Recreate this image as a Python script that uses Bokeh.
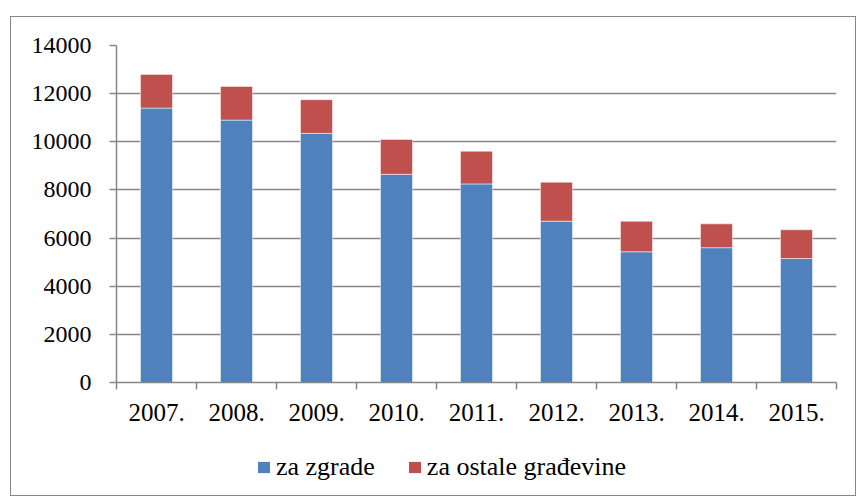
import numpy as np
from bokeh.plotting import figure
from bokeh.layouts import column
from bokeh.models import (Range1d, FixedTicker, Legend, LegendItem, ColumnDataSource)
from bokeh.embed import file_html
from bokeh.resources import INLINE

# ---- data ----
years = ["2007.", "2008.", "2009.", "2010.", "2011.", "2012.", "2013.", "2014.", "2015."]
za_zgrade = [11400, 10900, 10350, 8650, 8250, 6700, 5430, 5600, 5150]
za_ostale = [1400, 1400, 1400, 1450, 1360, 1620, 1270, 990, 1195]
y_ticks = [0, 2000, 4000, 6000, 8000, 10000, 12000, 14000]
series_names = ["za zgrade", "za ostale građevine"]

BLUE = "#4F81BD"
RED = "#C0504D"
GRID = "#868686"
FONT = "Liberation Serif"

n = len(years)
centers = [i + 0.5 for i in range(n)]
src = ColumnDataSource(dict(x=centers, zgrade=za_zgrade, ostale=za_ostale))

W = 844
p = figure(width=W, height=425, output_backend="svg", toolbar_location=None,
           x_range=Range1d(0, n), y_range=Range1d(y_ticks[0], y_ticks[-1]),
           min_border_left=105, min_border_right=19, min_border_top=28,
           min_border_bottom=60)
p.outline_line_color = None
p.background_fill_color = "white"
p.border_fill_color = "white"

rs = p.vbar_stack(["zgrade", "ostale"], x="x", width=0.4, color=[BLUE, RED],
                  line_color="white", line_alpha=0.5, line_width=1, source=src)

# x axis: labels at centres, tick marks at category boundaries
xa = p.xaxis[0]
xa.ticker = FixedTicker(ticks=centers, minor_ticks=list(range(n + 1)))
xa.major_label_overrides = {c: y for c, y in zip(centers, years)}
xa.major_tick_out = 0
xa.major_tick_in = 0
xa.minor_tick_out = 7
xa.minor_tick_in = 0
xa.minor_tick_line_color = GRID
xa.minor_tick_line_width = 1.5
xa.axis_line_color = GRID
xa.axis_line_width = 1.5
xa.major_label_text_font = FONT
xa.major_label_text_font_size = "25px"
xa.major_label_text_color = "black"
xa.major_label_standoff = 14

ya = p.yaxis[0]
ya.ticker = FixedTicker(ticks=y_ticks)
ya.major_tick_out = 7
ya.major_tick_in = 0
ya.minor_tick_line_color = None
ya.major_tick_line_color = GRID
ya.major_tick_line_width = 1.5
ya.axis_line_color = GRID
ya.axis_line_width = 1.5
ya.major_label_text_font = FONT
ya.major_label_text_font_size = "24px"
ya.major_label_text_color = "black"
ya.major_label_standoff = 18

p.xgrid.grid_line_color = None
p.ygrid.grid_line_color = GRID
p.ygrid.grid_line_width = 1.5
p.ygrid.ticker = FixedTicker(ticks=y_ticks)

# ---- legend strip below the chart ----
p2 = figure(width=W, height=53, output_backend="svg", toolbar_location=None,
            x_range=Range1d(0, 1), y_range=Range1d(0, 1),
            x_axis_location=None, y_axis_location=None,
            min_border=0, min_border_left=0, min_border_right=0,
            min_border_top=0, min_border_bottom=0)
p2.grid.visible = False
p2.outline_line_color = None
p2.background_fill_color = "white"
p2.border_fill_color = "white"
# zero-size proxy glyphs that only supply the legend swatches
proxy = ColumnDataSource(dict(x=[0], top=[0]))
l0 = p2.vbar(x="x", top="top", bottom="top", width=0, fill_color=BLUE,
             line_alpha=0, source=proxy)
l1 = p2.vbar(x="x", top="top", bottom="top", width=0, fill_color=RED,
             line_alpha=0, source=proxy)

legend = Legend(items=[LegendItem(label=series_names[0], renderers=[l0]),
                       LegendItem(label=series_names[1], renderers=[l1])],
                location=(140, 13), orientation="horizontal",
                glyph_width=15, glyph_height=14, label_standoff=5, spacing=32,
                padding=0, margin=0, border_line_color=None,
                background_fill_alpha=0, label_text_font=FONT,
                label_text_font_size="26px", label_text_color="black")
p2.add_layout(legend)

layout = column(p, p2, spacing=0)
layout.margin = (16, 0, 0, 10)
layout.styles = {"border": "1.5px solid #868686"}

open("out.html", "w").write(file_html(layout, INLINE))
